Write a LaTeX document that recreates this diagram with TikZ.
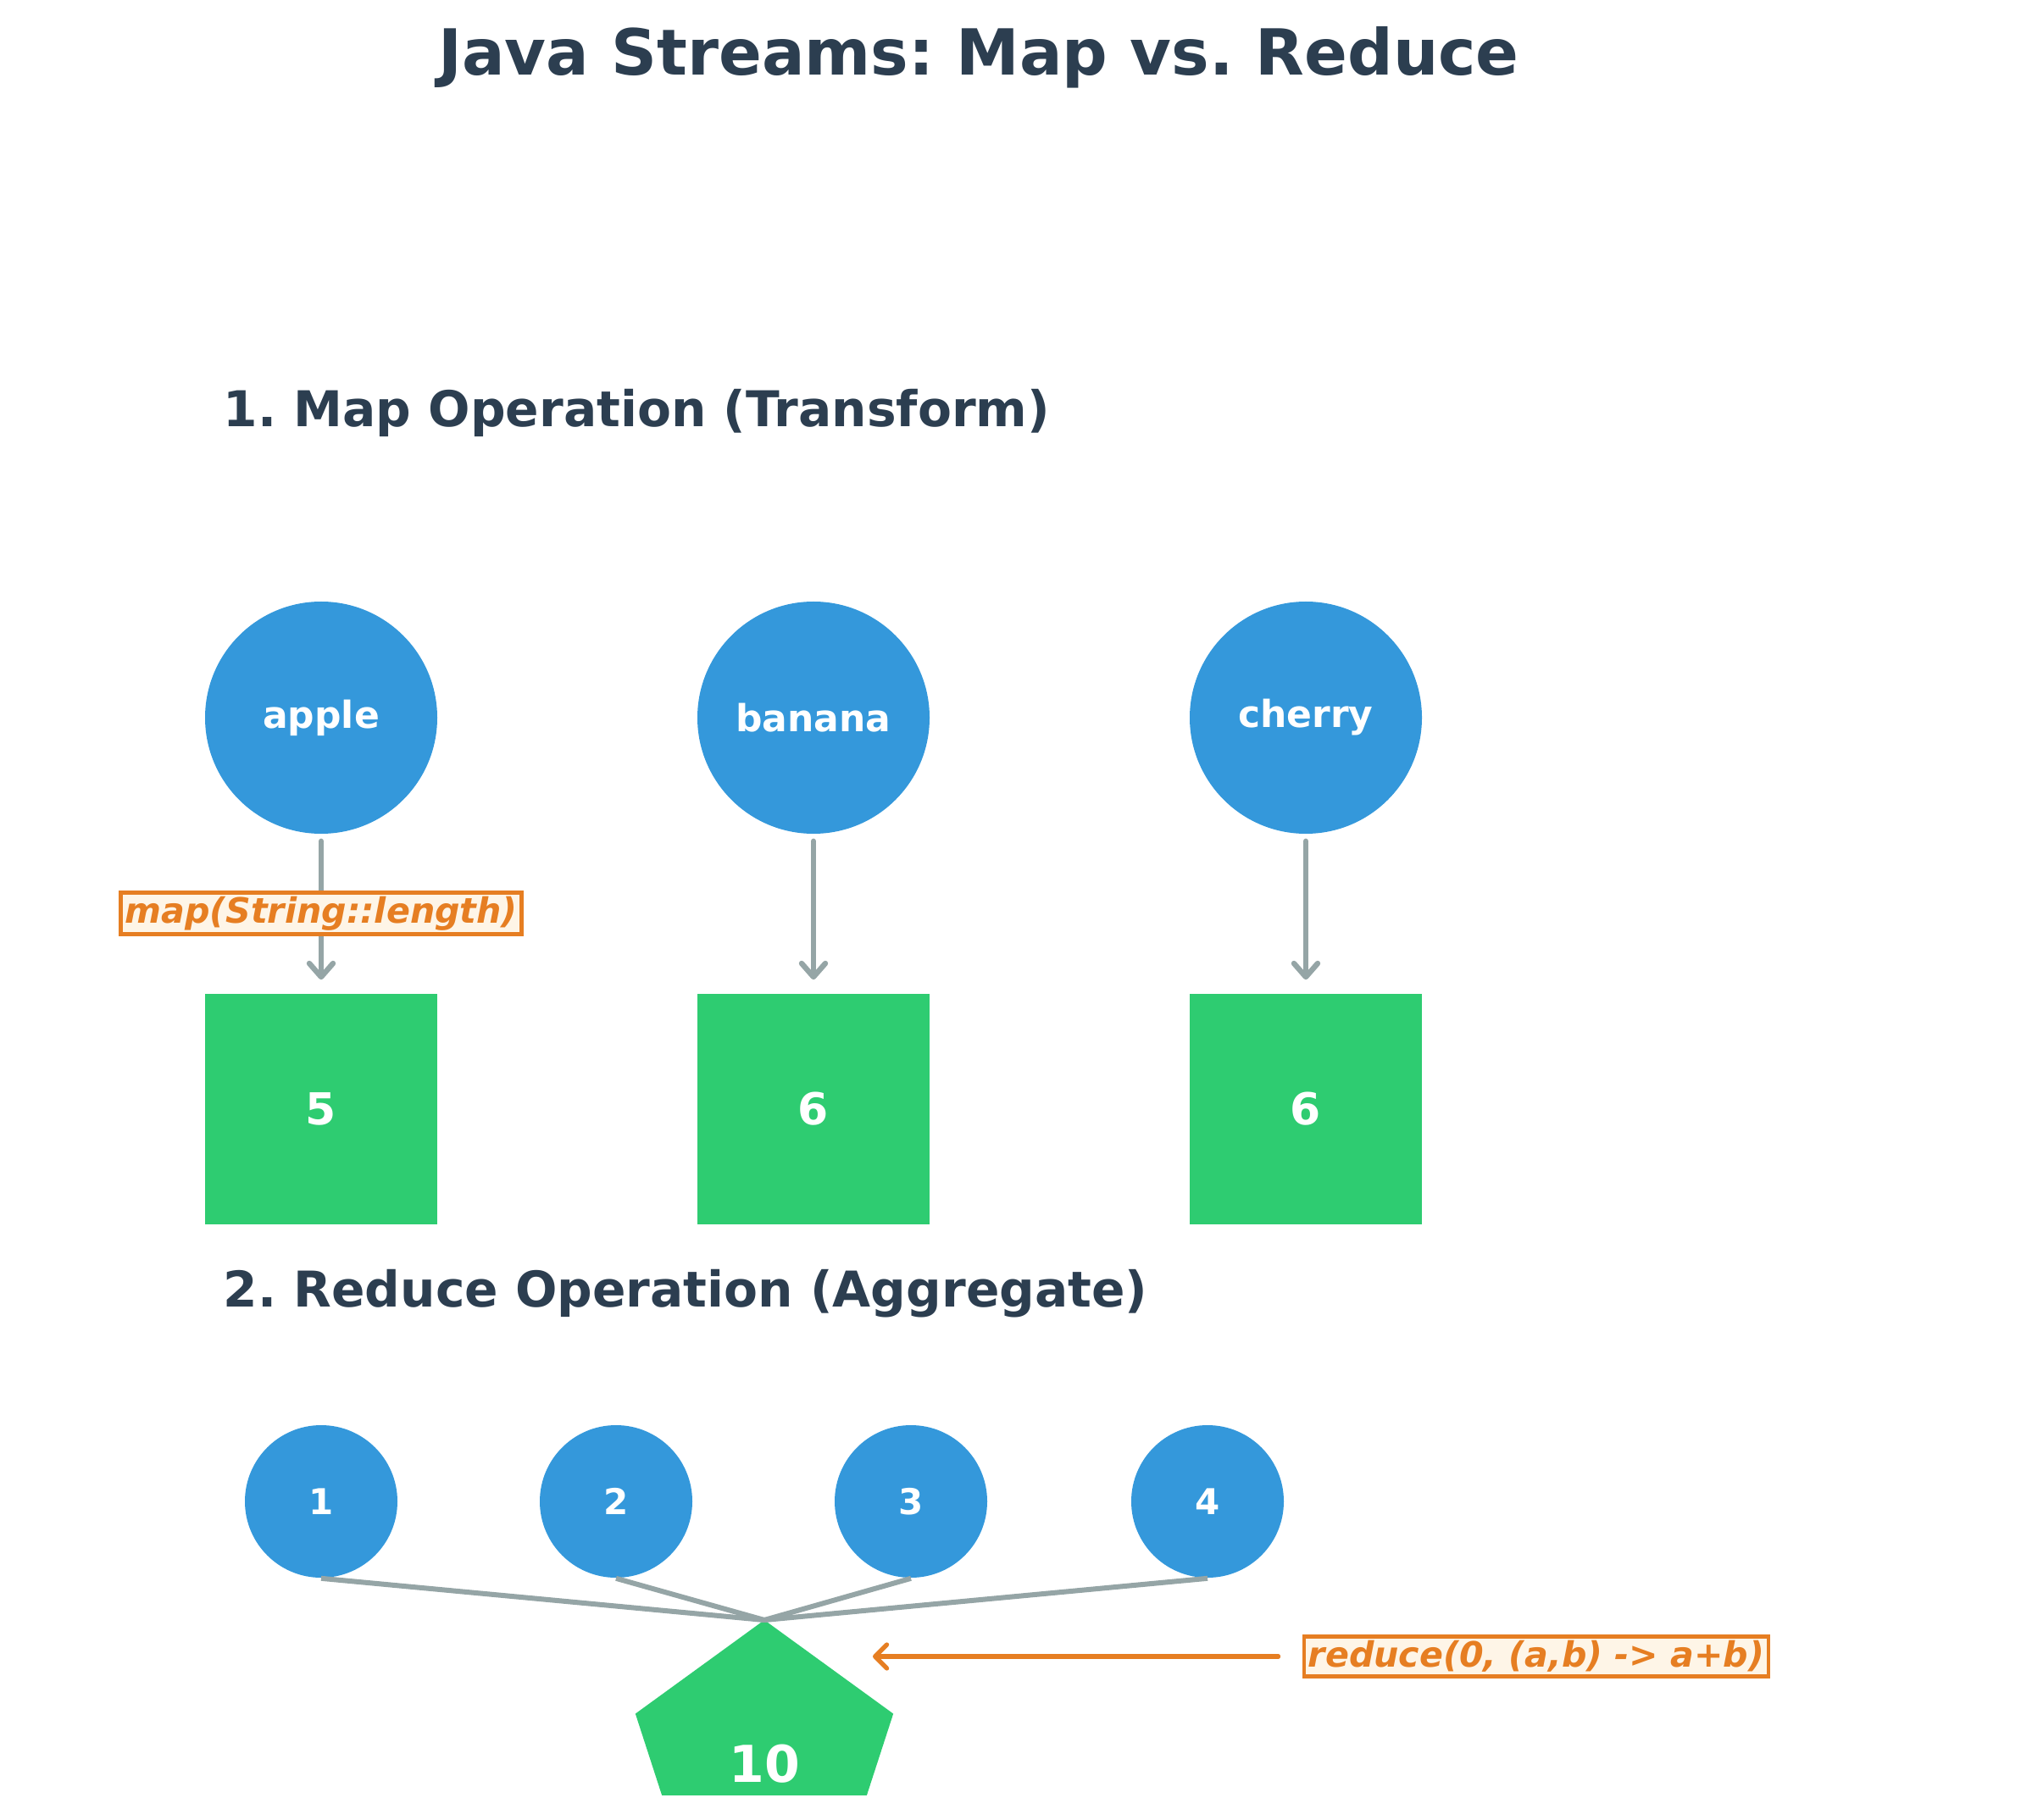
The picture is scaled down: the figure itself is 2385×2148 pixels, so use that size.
\documentclass[tikz,border=0pt]{standalone}
\usepackage{fontspec}
\setmainfont{DejaVu Sans}
\frenchspacing
\usetikzlibrary{arrows.meta,shapes.geometric}
\definecolor{cblue}{HTML}{3498DB}
\definecolor{cgreen}{HTML}{2ECC71}
\definecolor{cgray}{HTML}{95A5A6}
\definecolor{corange}{HTML}{E67E22}
\definecolor{cdark}{HTML}{2C3E50}
\definecolor{clabel}{HTML}{FEF5E7}
\tikzset{
  title/.style={text=cdark,font=\fontsize{18.75}{22}\selectfont\bfseries,anchor=base},
  header/.style={text=cdark,font=\fontsize{14.55}{17}\selectfont\bfseries,anchor=base west,inner sep=0},
  bigcirc/.style={circle,fill=cblue,minimum size=68.5pt,inner sep=0,text=white,font=\fontsize{11}{13}\selectfont\bfseries},
  smallcirc/.style={circle,fill=cblue,minimum size=45pt,inner sep=0,text=white,font=\fontsize{10.5}{12}\selectfont\bfseries},
  resbox/.style={rectangle,fill=cgreen,minimum width=68.5pt,minimum height=68pt,inner sep=0,text=white,font=\fontsize{13}{15}\selectfont\bfseries},
  maparrow/.style={draw=cgray,line width=1.6pt,line cap=round,-{Straight Barb[length=4pt,width=7pt,round]}},
  redline/.style={draw=cgray,line width=1.5pt},
  oplabel/.style={draw=corange,line width=1.2pt,fill=clabel,text=corange,inner sep=1.2pt,font=\fontsize{10.3}{12}\selectfont\bfseries\itshape},
  redarrow/.style={draw=corange,line width=1.3pt,line cap=round,-{Straight Barb[length=3.5pt,width=7pt,round]}}
}
\begin{document}
\begin{tikzpicture}[x=0.25pt,y=-0.25pt]
\useasboundingbox (0,0) rectangle (2385,2148);
\node[title] (title) at (1155,89) {Java Streams: Map vs. Reduce};
\node[header] (h1) at (263,504) {1. Map Operation (Transform)};
\node[header] (h2) at (263,1542) {2. Reduce Operation (Aggregate)};
% map
\node[bigcirc] (apple) at (379,847) {apple};
\node[bigcirc] (banana) at (960,847) {banana};
\node[bigcirc] (cherry) at (1541,847) {cherry};
\node[resbox] (r1) at (379,1309) {5};
\node[resbox] (r2) at (960,1309) {6};
\node[resbox] (r3) at (1541,1309) {6};
\draw[maparrow] ([yshift=-2pt]apple.south) -- ([yshift=4pt]r1.north);
\draw[maparrow] ([yshift=-2pt]banana.south) -- ([yshift=4pt]r2.north);
\draw[maparrow] ([yshift=-2pt]cherry.south) -- ([yshift=4pt]r3.north);
\node[oplabel] (ml) at (379,1078) {map(String::length)};
% reduce
\node[smallcirc] (n1) at (379,1772) {1};
\node[smallcirc] (n2) at (727,1772) {2};
\node[smallcirc] (n3) at (1075,1772) {3};
\node[smallcirc] (n4) at (1425,1772) {4};
\begin{scope}
\clip (0,0) rectangle (2385,2118);
\node[regular polygon,regular polygon sides=5,fill=cgreen,minimum size=80pt,inner sep=0,outer sep=0] (sum) at (902,2072) {};
\end{scope}
\node[text=white,font=\fontsize{15}{17}\selectfont\bfseries,inner sep=0] (sumval) at ([yshift=-2.5pt]sum.center) {10};
\draw[redline] (n1.south) -- (sum.corner 1);
\draw[redline] (n2.south) -- (sum.corner 1);
\draw[redline] (n3.south) -- (sum.corner 1);
\draw[redline] (n4.south) -- (sum.corner 1);
\node[oplabel] (rl) at (1813,1955) {reduce(0, (a,b) -> a+b)};
\coordinate (rtip) at (1030,1955);
\draw[redarrow] ([xshift=-7pt]rl.west) -- (rtip);
\end{tikzpicture}
\end{document}
